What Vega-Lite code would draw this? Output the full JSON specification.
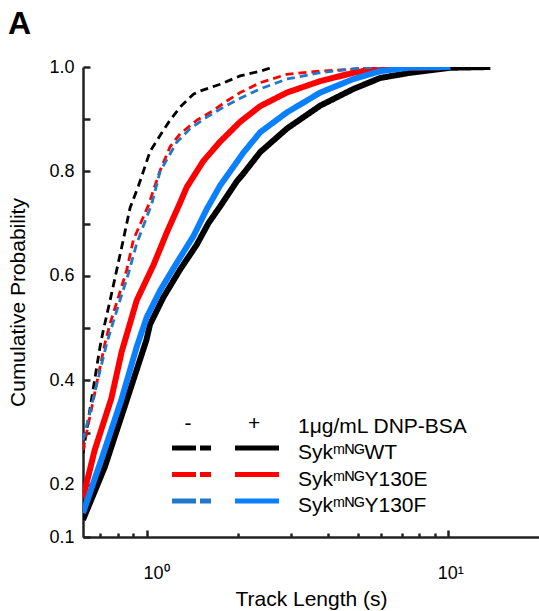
{
  "$schema": "https://vega.github.io/schema/vega-lite/v6.json",
  "width": 456,
  "height": 470,
  "autosize": {"type": "none"},
  "padding": {"left": 83, "top": 67, "right": 0, "bottom": 74},
  "background": "white",
  "config": {
    "view": {"stroke": null},
    "font": "Liberation Sans",
    "axis": {"labelFont": "Liberation Sans", "titleFont": "Liberation Sans"},
    "legend": {"labelFont": "Liberation Sans", "titleFont": "Liberation Sans"}
  },
  "title": {
    "text": "A",
    "anchor": "start",
    "frame": "group",
    "fontSize": 32,
    "fontWeight": "bold",
    "font": "Liberation Sans",
    "color": "black",
    "baseline": "alphabetic",
    "dx": -75,
    "dy": 30,
    "offset": 22
  },
  "data": {
    "values": [
      {"cond": "plus", "strain": "WT", "t": 0.613, "p": 0.133},
      {"cond": "plus", "strain": "WT", "t": 0.724, "p": 0.234},
      {"cond": "plus", "strain": "WT", "t": 0.843, "p": 0.350},
      {"cond": "plus", "strain": "WT", "t": 0.995, "p": 0.477},
      {"cond": "plus", "strain": "WT", "t": 1.023, "p": 0.507},
      {"cond": "plus", "strain": "WT", "t": 1.133, "p": 0.559},
      {"cond": "plus", "strain": "WT", "t": 1.287, "p": 0.612},
      {"cond": "plus", "strain": "WT", "t": 1.463, "p": 0.660},
      {"cond": "plus", "strain": "WT", "t": 1.599, "p": 0.701},
      {"cond": "plus", "strain": "WT", "t": 1.748, "p": 0.733},
      {"cond": "plus", "strain": "WT", "t": 1.986, "p": 0.781},
      {"cond": "plus", "strain": "WT", "t": 2.089, "p": 0.796},
      {"cond": "plus", "strain": "WT", "t": 2.374, "p": 0.837},
      {"cond": "plus", "strain": "WT", "t": 2.912, "p": 0.882},
      {"cond": "plus", "strain": "WT", "t": 3.757, "p": 0.926},
      {"cond": "plus", "strain": "WT", "t": 4.846, "p": 0.958},
      {"cond": "plus", "strain": "WT", "t": 5.944, "p": 0.979},
      {"cond": "plus", "strain": "WT", "t": 7.478, "p": 0.989},
      {"cond": "plus", "strain": "WT", "t": 10.15, "p": 0.9985},
      {"cond": "plus", "strain": "WT", "t": 13.79, "p": 1.0},

      {"cond": "plus", "strain": "Y130E", "t": 0.613, "p": 0.175},
      {"cond": "plus", "strain": "Y130E", "t": 0.670, "p": 0.266},
      {"cond": "plus", "strain": "Y130E", "t": 0.761, "p": 0.365},
      {"cond": "plus", "strain": "Y130E", "t": 0.824, "p": 0.455},
      {"cond": "plus", "strain": "Y130E", "t": 0.878, "p": 0.509},
      {"cond": "plus", "strain": "Y130E", "t": 0.924, "p": 0.553},
      {"cond": "plus", "strain": "Y130E", "t": 1.049, "p": 0.620},
      {"cond": "plus", "strain": "Y130E", "t": 1.163, "p": 0.683},
      {"cond": "plus", "strain": "Y130E", "t": 1.287, "p": 0.740},
      {"cond": "plus", "strain": "Y130E", "t": 1.355, "p": 0.770},
      {"cond": "plus", "strain": "Y130E", "t": 1.538, "p": 0.820},
      {"cond": "plus", "strain": "Y130E", "t": 1.748, "p": 0.857},
      {"cond": "plus", "strain": "Y130E", "t": 2.037, "p": 0.895},
      {"cond": "plus", "strain": "Y130E", "t": 2.374, "p": 0.925},
      {"cond": "plus", "strain": "Y130E", "t": 2.912, "p": 0.951},
      {"cond": "plus", "strain": "Y130E", "t": 3.757, "p": 0.973},
      {"cond": "plus", "strain": "Y130E", "t": 4.846, "p": 0.989},
      {"cond": "plus", "strain": "Y130E", "t": 5.944, "p": 0.998},
      {"cond": "plus", "strain": "Y130E", "t": 10.15, "p": 1.0},

      {"cond": "plus", "strain": "Y130F", "t": 0.613, "p": 0.146},
      {"cond": "plus", "strain": "Y130F", "t": 0.705, "p": 0.248},
      {"cond": "plus", "strain": "Y130F", "t": 0.822, "p": 0.363},
      {"cond": "plus", "strain": "Y130F", "t": 0.924, "p": 0.464},
      {"cond": "plus", "strain": "Y130F", "t": 0.998, "p": 0.521},
      {"cond": "plus", "strain": "Y130F", "t": 1.105, "p": 0.572},
      {"cond": "plus", "strain": "Y130F", "t": 1.255, "p": 0.625},
      {"cond": "plus", "strain": "Y130F", "t": 1.425, "p": 0.676},
      {"cond": "plus", "strain": "Y130F", "t": 1.579, "p": 0.728},
      {"cond": "plus", "strain": "Y130F", "t": 1.748, "p": 0.773},
      {"cond": "plus", "strain": "Y130F", "t": 1.986, "p": 0.818},
      {"cond": "plus", "strain": "Y130F", "t": 2.089, "p": 0.836},
      {"cond": "plus", "strain": "Y130F", "t": 2.374, "p": 0.875},
      {"cond": "plus", "strain": "Y130F", "t": 2.912, "p": 0.913},
      {"cond": "plus", "strain": "Y130F", "t": 3.757, "p": 0.951},
      {"cond": "plus", "strain": "Y130F", "t": 4.846, "p": 0.977},
      {"cond": "plus", "strain": "Y130F", "t": 5.944, "p": 0.992},
      {"cond": "plus", "strain": "Y130F", "t": 7.478, "p": 0.999},
      {"cond": "plus", "strain": "Y130F", "t": 10.15, "p": 1.0},

      {"cond": "minus", "strain": "WT", "t": 0.613, "p": 0.260},
      {"cond": "minus", "strain": "WT", "t": 0.6615, "p": 0.381},
      {"cond": "minus", "strain": "WT", "t": 0.698, "p": 0.464},
      {"cond": "minus", "strain": "WT", "t": 0.716, "p": 0.496},
      {"cond": "minus", "strain": "WT", "t": 0.754, "p": 0.553},
      {"cond": "minus", "strain": "WT", "t": 0.793, "p": 0.611},
      {"cond": "minus", "strain": "WT", "t": 0.834, "p": 0.669},
      {"cond": "minus", "strain": "WT", "t": 0.878, "p": 0.730},
      {"cond": "minus", "strain": "WT", "t": 0.936, "p": 0.772},
      {"cond": "minus", "strain": "WT", "t": 1.023, "p": 0.838},
      {"cond": "minus", "strain": "WT", "t": 1.105, "p": 0.869},
      {"cond": "minus", "strain": "WT", "t": 1.192, "p": 0.898},
      {"cond": "minus", "strain": "WT", "t": 1.287, "p": 0.923},
      {"cond": "minus", "strain": "WT", "t": 1.425, "p": 0.948},
      {"cond": "minus", "strain": "WT", "t": 1.500, "p": 0.954},
      {"cond": "minus", "strain": "WT", "t": 1.748, "p": 0.967},
      {"cond": "minus", "strain": "WT", "t": 2.037, "p": 0.983},
      {"cond": "minus", "strain": "WT", "t": 2.374, "p": 0.992},
      {"cond": "minus", "strain": "WT", "t": 2.628, "p": 1.0},

      {"cond": "minus", "strain": "Y130E", "t": 0.613, "p": 0.266},
      {"cond": "minus", "strain": "Y130E", "t": 0.725, "p": 0.471},
      {"cond": "minus", "strain": "Y130E", "t": 0.754, "p": 0.509},
      {"cond": "minus", "strain": "Y130E", "t": 0.803, "p": 0.559},
      {"cond": "minus", "strain": "Y130E", "t": 0.856, "p": 0.611},
      {"cond": "minus", "strain": "Y130E", "t": 0.901, "p": 0.669},
      {"cond": "minus", "strain": "Y130E", "t": 1.010, "p": 0.735},
      {"cond": "minus", "strain": "Y130E", "t": 1.105, "p": 0.802},
      {"cond": "minus", "strain": "Y130E", "t": 1.192, "p": 0.847},
      {"cond": "minus", "strain": "Y130E", "t": 1.287, "p": 0.872},
      {"cond": "minus", "strain": "Y130E", "t": 1.463, "p": 0.898},
      {"cond": "minus", "strain": "Y130E", "t": 1.661, "p": 0.917},
      {"cond": "minus", "strain": "Y130E", "t": 1.840, "p": 0.935},
      {"cond": "minus", "strain": "Y130E", "t": 2.037, "p": 0.951},
      {"cond": "minus", "strain": "Y130E", "t": 2.374, "p": 0.970},
      {"cond": "minus", "strain": "Y130E", "t": 2.912, "p": 0.986},
      {"cond": "minus", "strain": "Y130E", "t": 3.757, "p": 0.992},
      {"cond": "minus", "strain": "Y130E", "t": 4.846, "p": 0.996},
      {"cond": "minus", "strain": "Y130E", "t": 5.944, "p": 1.0},

      {"cond": "minus", "strain": "Y130F", "t": 0.613, "p": 0.285},
      {"cond": "minus", "strain": "Y130F", "t": 0.735, "p": 0.471},
      {"cond": "minus", "strain": "Y130F", "t": 0.763, "p": 0.502},
      {"cond": "minus", "strain": "Y130F", "t": 0.813, "p": 0.553},
      {"cond": "minus", "strain": "Y130F", "t": 0.867, "p": 0.604},
      {"cond": "minus", "strain": "Y130F", "t": 0.924, "p": 0.662},
      {"cond": "minus", "strain": "Y130F", "t": 1.037, "p": 0.738},
      {"cond": "minus", "strain": "Y130F", "t": 1.105, "p": 0.800},
      {"cond": "minus", "strain": "Y130F", "t": 1.255, "p": 0.856},
      {"cond": "minus", "strain": "Y130F", "t": 1.390, "p": 0.882},
      {"cond": "minus", "strain": "Y130F", "t": 1.579, "p": 0.904},
      {"cond": "minus", "strain": "Y130F", "t": 1.793, "p": 0.923},
      {"cond": "minus", "strain": "Y130F", "t": 2.037, "p": 0.940},
      {"cond": "minus", "strain": "Y130F", "t": 2.374, "p": 0.958},
      {"cond": "minus", "strain": "Y130F", "t": 2.912, "p": 0.977},
      {"cond": "minus", "strain": "Y130F", "t": 3.757, "p": 0.989},
      {"cond": "minus", "strain": "Y130F", "t": 5.102, "p": 0.998},
      {"cond": "minus", "strain": "Y130F", "t": 5.944, "p": 1.0}
    ]
  },
  "encoding": {
    "x": {
      "field": "t",
      "type": "quantitative",
      "scale": {"type": "log", "domain": [0.613, 20], "nice": false},
      "axis": {
        "title": "Track Length (s)",
        "values": [0.7, 0.8, 0.9, 1, 2, 3, 4, 5, 6, 7, 8, 9, 10],
        "labelExpr": "datum.value == 1 ? '10⁰' : datum.value == 10 ? '10¹' : ''",
        "tickSize": {"condition": {"test": "datum.value == 1 || datum.value == 10", "value": -7}, "value": -4},
        "labelOffset": {"condition": {"test": "datum.value == 1", "value": 9}, "value": 2},
        "tickColor": "#222222",
        "tickWidth": 2.5,
        "domainColor": "#222222",
        "domainWidth": 2.5,
        "grid": false,
        "labelPadding": 34,
        "labelFontSize": 18,
        "labelColor": "black",
        "labelFlush": false,
        "labelOverlap": false,
        "titleFontSize": 21,
        "titleFontWeight": "normal",
        "titleColor": "black",
        "titlePadding": 3
      }
    },
    "y": {
      "field": "p",
      "type": "quantitative",
      "scale": {"domain": [0.1, 1.0], "nice": false, "zero": false},
      "axis": {
        "title": "Cumulative Probability",
        "values": [0.1, 0.2, 0.3, 0.4, 0.5, 0.6, 0.7, 0.8, 0.9, 1.0],
        "labelExpr": "indexof([0.1, 0.2, 0.4, 0.6, 0.8, 1], datum.value) >= 0 ? format(datum.value, '.1f') : ''",
        "tickSize": -7,
        "tickColor": "#222222",
        "tickWidth": 2.5,
        "domainColor": "#222222",
        "domainWidth": 2.5,
        "grid": false,
        "labelPadding": 16,
        "labelFontSize": 18,
        "labelColor": "black",
        "labelFlush": false,
        "labelOverlap": false,
        "titleFontSize": 21,
        "titleFontWeight": "normal",
        "titleColor": "black",
        "titlePadding": 20
      }
    }
  },
  "layer": [
    {
      "transform": [{"filter": "datum.cond == 'plus'"}],
      "mark": {"type": "line", "strokeWidth": 6, "strokeCap": "butt", "strokeJoin": "round", "clip": true},
      "encoding": {
        "stroke": {
          "field": "strain",
          "type": "nominal",
          "scale": {"range": ["#000000", "#ff0000", "#0a80ff"]},
          "legend": {
            "title": "+",
            "orient": "none",
            "legendX": 152,
            "legendY": 344,
            "padding": 0,
            "titleAnchor": "middle",
            "titleFontSize": 21,
            "titleFontWeight": "normal",
            "titleColor": "black",
            "titlePadding": 5.5,
            "labelExpr": "''",
            "labelFontSize": 21,
            "rowPadding": 4.5,
            "symbolType": "M-3.67,0H3.67",
            "symbolSize": 144,
            "symbolStrokeWidth": 5,
            "symbolOffset": 11.5,
            "symbolFillColor": "transparent",
            "encode": {
              "title": {"update": {"dx": {"value": -8}, "dy": {"value": 2}}},
              "symbols": {
                "update": {
                  "stroke": {"signal": "datum.value == 'Y130F' ? '#5b8fe6' : datum.value == 'Y130E' ? '#ff0000' : '#000000'"},
                  "strokeDash": {"value": [1, 0]},
                  "strokeWidth": {"value": 5},
                  "opacity": {"value": 1}
                }
              }
            }
          }
        },
        "strokeDash": {
          "field": "strain",
          "type": "nominal",
          "scale": {"domain": ["WT", "Y130E", "Y130F"], "range": [[1, 0], [1, 0], [1, 0]]},
          "legend": {
            "title": "1μg/mL DNP-BSA",
            "orient": "none",
            "legendX": 215,
            "legendY": 349,
            "padding": 0,
            "titleAnchor": "start",
            "titleFontSize": 21,
            "titleFontWeight": "normal",
            "titleColor": "black",
            "titlePadding": 5.5,
            "labelExpr": "'Sykᵐᴺᴳ' + datum.label",
            "labelFontSize": 21,
            "labelColor": "black",
            "labelOffset": -21,
            "labelLimit": 300,
            "rowPadding": 4.5,
            "symbolSize": 0,
            "symbolOpacity": 0,
            "symbolStrokeWidth": 0
          }
        }
      }
    },
    {
      "transform": [{"filter": "datum.cond == 'minus'"}],
      "mark": {"type": "line", "strokeWidth": 2.8, "strokeDash": [8, 5], "strokeJoin": "round", "clip": true},
      "encoding": {
        "color": {
          "field": "strain",
          "type": "nominal",
          "scale": {"range": ["#000000", "#ff0000", "#1f78c8"]},
          "legend": {
            "title": "-",
            "orient": "none",
            "legendX": 89,
            "legendY": 344,
            "padding": 0,
            "titleAnchor": "middle",
            "titleFontSize": 21,
            "titleFontWeight": "normal",
            "titleColor": "black",
            "titlePadding": 5.5,
            "labelExpr": "''",
            "labelFontSize": 21,
            "rowPadding": 4.5,
            "symbolType": "M-3.25,0H3.25",
            "symbolSize": 144,
            "symbolStrokeWidth": 5,
            "symbolOffset": 9,
            "symbolFillColor": "transparent",
            "encode": {
              "title": {"update": {"dx": {"value": -9}, "dy": {"value": 2}}},
              "symbols": {
                "update": {
                  "stroke": {"signal": "datum.value == 'Y130F' ? '#6fa7ee' : datum.value == 'Y130E' ? '#ff0000' : '#000000'"},
                  "strokeDash": {"value": [24, 4, 11, 60]},
                  "strokeWidth": {"value": 5},
                  "opacity": {"value": 1}
                }
              }
            }
          }
        }
      }
    }
  ]
}
